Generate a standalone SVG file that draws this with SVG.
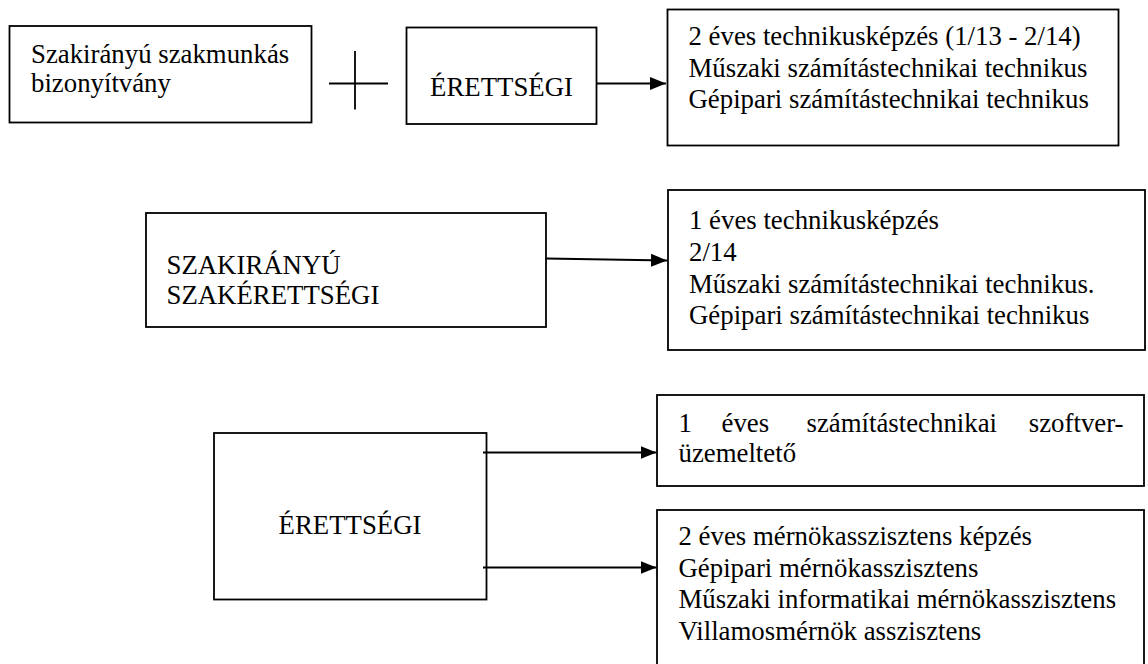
<svg xmlns="http://www.w3.org/2000/svg" width="1148" height="664" viewBox="0 0 1148 664">
<style>
.box{fill:#fff;stroke:#000;stroke-width:1.8}
.t{font-family:"Liberation Serif","Times New Roman",serif;font-size:26.8px;fill:#000}
.c{stroke:#000;stroke-width:1.8;fill:none}
</style>
<defs>
<marker id="ah" viewBox="0 0 16 13" refX="16" refY="6.5" markerWidth="16" markerHeight="13" markerUnits="userSpaceOnUse" orient="auto">
<path d="M0,0 L16,6.5 L0,13 Z" fill="#000"/>
</marker>
</defs>
<rect width="1148" height="664" fill="#fff"/>
<g id="node-szakmunkas">
<rect class="box" x="9.5" y="26" width="302" height="96.5"/>
<text class="t" x="31" y="63">Szakirányú szakmunkás</text>
<text class="t" x="31" y="92">bizonyítvány</text>
</g>
<g id="node-plus">
<line class="c" x1="329" y1="83.5" x2="388" y2="83.5"/>
<line class="c" x1="355" y1="51" x2="355" y2="109.5"/>
</g>
<g id="node-erettsegi-top">
<rect class="box" x="406.5" y="27.5" width="190" height="96.5"/>
<text class="t" x="501.5" y="96" text-anchor="middle">ÉRETTSÉGI</text>
</g>
<g id="node-2eves-tech">
<rect class="box" x="667.5" y="9.5" width="451" height="136"/>
<text class="t" x="688.5" y="45">2 éves technikusképzés (1/13 - 2/14)</text>
<text class="t" x="688.5" y="76.5">Műszaki számítástechnikai technikus</text>
<text class="t" x="688.5" y="108">Gépipari számítástechnikai technikus</text>
</g>
<g id="node-szakerettsegi">
<rect class="box" x="146" y="213" width="400" height="114"/>
<text class="t" x="166.5" y="273.5">SZAKIRÁNYÚ</text>
<text class="t" x="166.5" y="304">SZAKÉRETTSÉGI</text>
</g>
<g id="node-1eves-tech">
<rect class="box" x="668" y="190" width="477" height="160"/>
<text class="t" x="689" y="229">1 éves technikusképzés</text>
<text class="t" x="689" y="261">2/14</text>
<text class="t" x="689" y="292.5">Műszaki számítástechnikai technikus.</text>
<text class="t" x="689" y="324">Gépipari számítástechnikai technikus</text>
</g>
<g id="node-erettsegi-bottom">
<rect class="box" x="214" y="433" width="272.5" height="166.5"/>
<text class="t" x="350" y="533.5" text-anchor="middle">ÉRETTSÉGI</text>
</g>
<g id="node-szoftver">
<rect class="box" x="657" y="395" width="487" height="91"/>
<text class="t" x="678.5" y="431.5">1</text>
<text class="t" x="721.5" y="431.5">éves</text>
<text class="t" x="806.5" y="431.5">számítástechnikai</text>
<text class="t" x="1123.5" y="431.5" text-anchor="end">szoftver-</text>
<text class="t" x="678.5" y="462">üzemeltető</text>
</g>
<g id="node-mernokasszisztens">
<rect class="box" x="657" y="510" width="487" height="160"/>
<text class="t" x="678.5" y="545">2 éves mérnökasszisztens képzés</text>
<text class="t" x="678.5" y="576.5">Gépipari mérnökasszisztens</text>
<text class="t" x="678.5" y="608">Műszaki informatikai mérnökasszisztens</text>
<text class="t" x="678.5" y="639.5">Villamosmérnök asszisztens</text>
</g>
<g id="connectors">
<line class="c" x1="597" y1="83.5" x2="666" y2="83.5" marker-end="url(#ah)"/>
<line class="c" x1="546" y1="258.5" x2="667" y2="260.5" marker-end="url(#ah)"/>
<line class="c" x1="483" y1="452.5" x2="656.5" y2="452.5" marker-end="url(#ah)"/>
<line class="c" x1="483" y1="567.5" x2="656.5" y2="567.5" marker-end="url(#ah)"/>
</g>
</svg>
